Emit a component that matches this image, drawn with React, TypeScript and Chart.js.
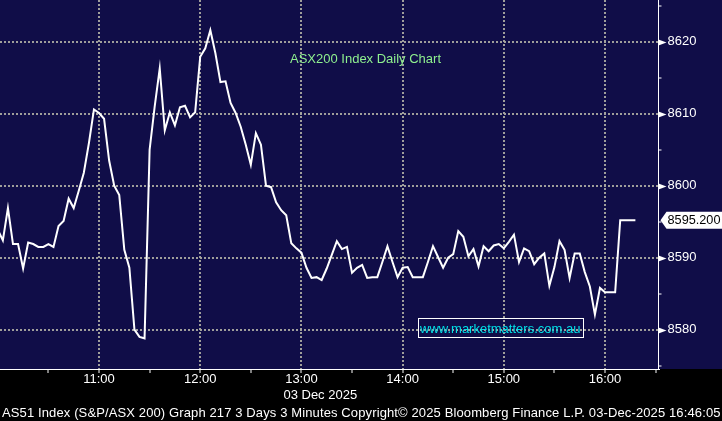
import React, { useEffect, useRef } from 'react';
import { Chart, registerables } from 'chart.js';

Chart.register(...registerables);

// ---- data ----
const STEP_MINUTES = 3; // 3-minute bars from 10:00
const values = [
  8593.9, 8592.4, 8596.9, 8591.9, 8591.9, 8588.5, 8592.1, 8591.9, 8591.5, 8591.5,
  8591.9, 8591.5, 8594.4, 8595.1, 8598.2, 8596.9, 8599.3, 8601.8, 8605.9, 8610.6,
  8610.1, 8609.3, 8603.5, 8600.0, 8598.7, 8591.1, 8588.6, 8580.0, 8579.0, 8578.8,
  8605.0, 8611.0, 8616.3, 8607.7, 8610.2, 8608.4, 8610.9, 8611.1, 8609.5, 8610.2,
  8617.9, 8619.1, 8621.6, 8618.4, 8614.4, 8614.5, 8611.5, 8610.1, 8608.2, 8605.7,
  8602.9, 8607.3, 8605.7, 8600.0, 8599.8, 8597.7, 8596.6, 8595.9, 8592.0, 8591.3,
  8590.7, 8588.6, 8587.2, 8587.3, 8586.9, 8588.5, 8590.4, 8592.3, 8591.2, 8591.5,
  8587.9, 8588.6, 8589.0, 8587.2, 8587.3, 8587.3, 8589.4, 8591.6, 8589.4, 8587.3,
  8588.6, 8588.7, 8587.3, 8587.3, 8587.3, 8589.4, 8591.6, 8590.1, 8588.6, 8590.0,
  8590.5, 8593.7, 8592.9, 8590.2, 8591.2, 8588.8, 8591.6, 8590.9, 8591.7, 8591.9,
  8591.3, 8592.2, 8593.2, 8589.4, 8591.3, 8590.9, 8589.1, 8590.0, 8590.6, 8586.1,
  8588.7, 8592.3, 8591.1, 8587.2, 8590.6, 8590.6, 8588.0, 8586.0, 8582.1, 8585.8,
  8585.2, 8585.2, 8585.2, 8595.2, 8595.2, 8595.2, 8595.2,
];
const xTickMinutes = [30, 60, 90, 120, 150, 180, 210, 240, 270, 300, 330, 360, 390];
const hourLabels = ['10:00', '11:00', '12:00', '13:00', '14:00', '15:00', '16:00', '17:00'];
const yTickValues = [8575, 8580, 8585, 8590, 8595, 8600, 8605, 8610, 8615, 8620, 8625];
const LAST_LABEL = '8595.200';
const TITLE = 'ASX200 Index Daily Chart';
const WATERMARK = 'www.marketmatters.com.au';
const DATE_LABEL = '03 Dec 2025';
const FOOTER =
  'AS51 Index (S&P/ASX 200) Graph 217 3 Days 3 Minutes Copyright\u00A9 2025 Bloomberg Finance L.P. 03-Dec-2025 16:46:05';

const NAVY = '#100d48';
const GRID = 'rgba(168,166,160,0.95)';
const FONT = '"Liberation Sans", Arial, sans-serif';

const decorPlugin = {
  id: 'decor',
  beforeDraw(chart: any) {
    const { ctx, width, height, chartArea } = chart;
    ctx.save();
    ctx.fillStyle = '#000';
    ctx.fillRect(0, 0, width, height);
    ctx.fillStyle = NAVY;
    ctx.fillRect(0, 0, width, chartArea.bottom);
    ctx.restore();
  },
  afterDraw(chart: any) {
    const { ctx, chartArea, scales } = chart;
    const ys = scales.y;
    const xs = scales.x;
    ctx.save();
    // arrow markers on major y ticks
    ctx.fillStyle = '#fff';
    yTickValues.forEach((v) => {
      if (v % 10 !== 0) return;
      const py = Math.round(ys.getPixelForValue(v)) + 0.5;
      ctx.beginPath();
      ctx.moveTo(chartArea.right, py - 3);
      ctx.lineTo(chartArea.right + 8, py);
      ctx.lineTo(chartArea.right, py + 3);
      ctx.closePath();
      ctx.fill();
    });

    // title
    ctx.font = `13px ${FONT}`;
    ctx.textBaseline = 'middle';
    ctx.textAlign = 'left';
    ctx.fillStyle = '#8ff08f';
    ctx.fillText(TITLE, 290, 59.5);

    // watermark box
    ctx.strokeStyle = '#ffffff';
    ctx.lineWidth = 1;
    ctx.strokeRect(418.5, 318.5, 165, 19);
    ctx.fillStyle = '#00dfe6';
    ctx.fillText(WATERMARK, 420, 329, 161);

    // last price tag
    const last = values[values.length - 1];
    const ty = ys.getPixelForValue(last);
    const tx = chartArea.right + 2;
    ctx.fillStyle = '#ffffff';
    ctx.beginPath();
    ctx.moveTo(tx, ty);
    ctx.lineTo(tx + 6, ty - 8.5);
    ctx.lineTo(722, ty - 8.5);
    ctx.lineTo(722, ty + 8.5);
    ctx.lineTo(tx + 6, ty + 8.5);
    ctx.closePath();
    ctx.fill();
    ctx.fillStyle = '#000';
    ctx.font = `13px ${FONT}`;
    ctx.fillText(LAST_LABEL, 667.5, ty + 0.5, 53);

    // date under 13:00
    ctx.fillStyle = '#ffffff';
    ctx.fillText(DATE_LABEL, xs.getPixelForValue(180) - 18, 395);

    // footer
    ctx.font = `13px ${FONT}`;
    const w = ctx.measureText(FOOTER).width;
    const spacing = (718 - w) / (FOOTER.length - 1);
    (ctx as any).letterSpacing = `${spacing.toFixed(2)}px`;
    ctx.fillText(FOOTER, 2, 413);
    ctx.restore();
  },
};

export default function App() {
  const canvasRef = useRef<HTMLCanvasElement | null>(null);

  useEffect(() => {
    document.body.style.margin = '0';
    document.body.style.background = '#000';
    const canvas = canvasRef.current;
    if (!canvas) return;
    const points = values.map((v, i) => ({ x: i * STEP_MINUTES, y: v }));
    const chart = new Chart(canvas, {
      type: 'line',
      data: {
        datasets: [
          {
            data: points,
            borderColor: '#ffffff',
            borderWidth: 2,
            pointRadius: 0,
            tension: 0,
            fill: false,
          },
        ],
      },
      options: {
        animation: false,
        responsive: false,
        devicePixelRatio: 1,
        layout: { padding: 0 },
        plugins: {
          legend: { display: false },
          tooltip: { enabled: false },
          title: { display: false },
        },
        scales: {
          x: {
            type: 'linear',
            position: 'bottom',
            min: 1.3,
            max: 391.7,
            afterBuildTicks: (scale: any) => {
              scale.ticks = xTickMinutes.map((v) => ({ value: v }));
            },
            afterFit: (scale: any) => {
              scale.height = 52;
              scale.paddingLeft = 0;
              scale.paddingRight = 0;
            },
            ticks: {
              autoSkip: false,
              maxRotation: 0,
              padding: -1,
              color: '#ffffff',
              font: { family: FONT, size: 13 },
              callback: (v: any) => (Number(v) % 60 === 0 ? hourLabels[Number(v) / 60] : ''),
            },
            grid: {
              color: (c: any) => (c.tick && c.tick.value % 60 === 0 ? GRID : 'rgba(0,0,0,0)'),
              lineWidth: 2,
              tickColor: '#ffffff',
              tickLength: 4,
              tickWidth: 1,
            },
            border: { display: true, color: '#ffffff', width: 1, dash: [2, 2] },
          },
          y: {
            type: 'linear',
            position: 'right',
            min: 8574.54,
            max: 8625.8,
            afterBuildTicks: (scale: any) => {
              scale.ticks = yTickValues.map((v) => ({ value: v }));
            },
            afterFit: (scale: any) => {
              scale.width = 63.5;
              scale.paddingTop = 0;
              scale.paddingBottom = 0;
            },
            ticks: {
              padding: 6,
              color: '#ffffff',
              font: { family: FONT, size: 13 },
              callback: (v: any) => (Number(v) % 10 === 0 ? String(v) : ''),
            },
            grid: {
              color: (c: any) => (c.tick && c.tick.value % 10 === 0 ? GRID : 'rgba(0,0,0,0)'),
              lineWidth: 2,
              tickColor: (c: any) => (c.tick && c.tick.value % 10 === 0 ? 'rgba(0,0,0,0)' : '#ffffff'),
              tickLength: 3,
              tickWidth: 1,
            },
            border: { display: true, color: '#ffffff', width: 1, dash: [2, 2] },
          },
        },
      },
      plugins: [decorPlugin],
    });
    return () => chart.destroy();
  }, []);

  return <canvas ref={canvasRef} width={722} height={421} style={{ display: 'block' }} />;
}
